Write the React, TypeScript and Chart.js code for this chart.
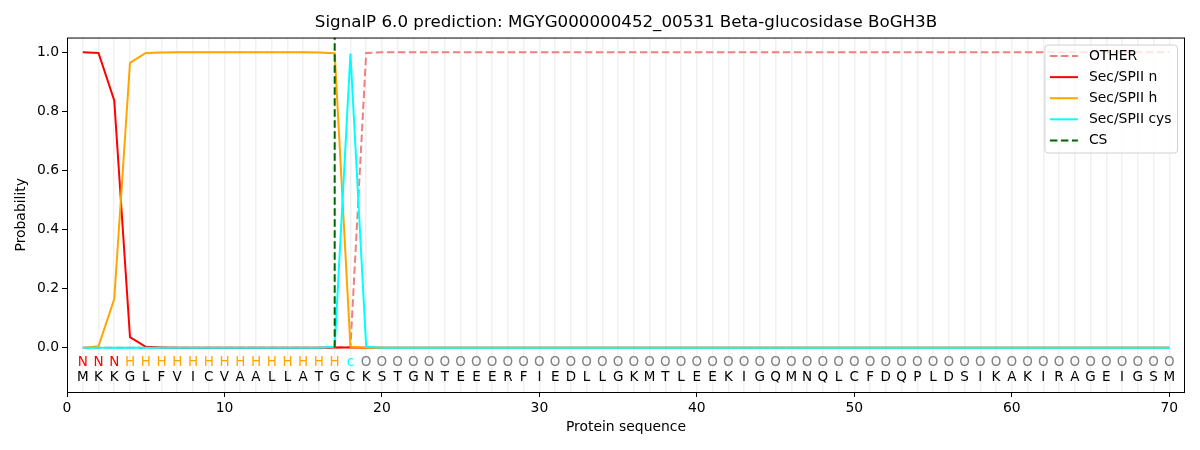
import { useEffect, useRef } from "react";
import { Chart, registerables } from "chart.js";
import type { ChartConfiguration, Plugin } from "chart.js";

Chart.register(...registerables);

const TITLE = "SignalP 6.0 prediction: MGYG000000452_00531 Beta-glucosidase BoGH3B";
const FONT = "DejaVu Sans";

// amino acid sequence and the predicted region for each residue
const sequence = "MKKGLFVICVAALLATGCKSTGNTEEERFIEDLLGKMTLEEKIGQMNQLCFDQPLDSIKAKIRAGEIGSM".split("");
const regions = ("NNNHHHHHHHHHHHHHHc" + "OOOOOOOOOOOOOOOOOOOOOOOOOOOOOOOOOOOOOOOOOOOOOOOOOOOO").split("");
const positions = sequence.map((_, i) => i + 1);

const otherProb = [
  0, 0, 0, 0, 0, 0, 0, 0, 0, 0,
  0, 0, 0, 0, 0, 0, 0, 0.002, 0.998, 1,
  1, 1, 1, 1, 1, 1, 1, 1, 1, 1,
  1, 1, 1, 1, 1, 1, 1, 1, 1, 1,
  1, 1, 1, 1, 1, 1, 1, 1, 1, 1,
  1, 1, 1, 1, 1, 1, 1, 1, 1, 1,
  1, 1, 1, 1, 1, 1, 1, 1, 1, 1,
];
const nProb = [
  1.0, 0.998, 0.837, 0.036, 0.003, 0.001, 0, 0, 0, 0,
  0, 0, 0, 0, 0, 0, 0.001, 0.001, 0, 0,
  0, 0, 0, 0, 0, 0, 0, 0, 0, 0,
  0, 0, 0, 0, 0, 0, 0, 0, 0, 0,
  0, 0, 0, 0, 0, 0, 0, 0, 0, 0,
  0, 0, 0, 0, 0, 0, 0, 0, 0, 0,
  0, 0, 0, 0, 0, 0, 0, 0, 0, 0,
];
const hProb = [
  0, 0.005, 0.165, 0.964, 0.998, 0.999, 1, 1, 1, 1,
  1, 1, 1, 1, 1, 0.999, 0.997, 0.003, 0, 0,
  0, 0, 0, 0, 0, 0, 0, 0, 0, 0,
  0, 0, 0, 0, 0, 0, 0, 0, 0, 0,
  0, 0, 0, 0, 0, 0, 0, 0, 0, 0,
  0, 0, 0, 0, 0, 0, 0, 0, 0, 0,
  0, 0, 0, 0, 0, 0, 0, 0, 0, 0,
];
const cysProb = [
  0, 0, 0, 0, 0, 0, 0, 0, 0, 0,
  0, 0, 0, 0, 0, 0, 0.003, 0.996, 0.003, 0,
  0, 0, 0, 0, 0, 0, 0, 0, 0, 0,
  0, 0, 0, 0, 0, 0, 0, 0, 0, 0,
  0, 0, 0, 0, 0, 0, 0, 0, 0, 0,
  0, 0, 0, 0, 0, 0, 0, 0, 0, 0,
  0, 0, 0, 0, 0, 0, 0, 0, 0, 0,
];
const csPosition = 17;

const xTicks = [0, 10, 20, 30, 40, 50, 60, 70];
const yTicks = [0, 0.2, 0.4, 0.6, 0.8, 1.0];
const X_MIN = 0;
const X_MAX = 71;
const Y_MIN = -0.15;
const Y_MAX = 1.05;

const regionColors: Record<string, string> = { N: "red", H: "orange", c: "cyan", O: "grey" };

const toPoints = (values: number[]) => values.map((y, i) => ({ x: positions[i], y }));

// residue letters under the curves
const sequencePlugin: Plugin<"line"> = {
  id: "sequenceLetters",
  afterDatasetsDraw(chart) {
    const { ctx } = chart;
    const xs = chart.scales.x;
    const ys = chart.scales.y;
    ctx.save();
    ctx.font = `13.5px "${FONT}"`;
    ctx.textAlign = "center";
    ctx.textBaseline = "middle";
    positions.forEach((p, i) => {
      const px = xs.getPixelForValue(p);
      ctx.fillStyle = regionColors[regions[i]] || "grey";
      ctx.fillText(regions[i], px, ys.getPixelForValue(-0.05));
      ctx.fillStyle = "#000";
      ctx.fillText(sequence[i], px, ys.getPixelForValue(-0.1));
    });
    ctx.restore();
  },
};

// matplotlib style frame + legend box in the upper right
const framePlugin: Plugin<"line"> = {
  id: "frameAndLegend",
  afterDraw(chart) {
    const { ctx, chartArea } = chart;
    ctx.save();
    ctx.strokeStyle = "#000";
    ctx.lineWidth = 1;
    ctx.strokeRect(chartArea.left + 0.5, chartArea.top + 0.5, chartArea.width - 1, chartArea.height);

    ctx.font = `13.9px "${FONT}"`;
    const items = chart.data.datasets;
    const maxText = Math.max(...items.map((d) => ctx.measureText(String(d.label)).width));
    const w = 44 + maxText + 6;
    const h = 108;
    const left = chartArea.right - 7.5 - w;
    const top = chartArea.top + 7.5;
    ctx.beginPath();
    ctx.roundRect(left, top, w, h, 3);
    ctx.fillStyle = "rgba(255,255,255,0.8)";
    ctx.fill();
    ctx.strokeStyle = "#d0d0d0";
    ctx.stroke();

    ctx.textBaseline = "middle";
    items.forEach((d: any, i) => {
      const y = top + 11 + i * 21.1;
      ctx.beginPath();
      ctx.setLineDash(d.borderDash || []);
      ctx.strokeStyle = d.borderColor;
      ctx.lineWidth = 2;
      ctx.moveTo(left + 5, y);
      ctx.lineTo(left + 33, y);
      ctx.stroke();
      ctx.setLineDash([]);
      ctx.fillStyle = "#000";
      ctx.fillText(String(d.label), left + 44, y);
    });
    ctx.restore();
  },
};

export default function App() {
  const chartRef = useRef<HTMLCanvasElement>(null);

  useEffect(() => {
    document.body.style.margin = "0";
    if (!chartRef.current) return;

    const tickFont = { family: FONT, size: 13.9 };
    const axisGrid = { drawOnChartArea: false, drawTicks: true, tickLength: 5, color: "#000", lineWidth: 1 };

    const config: ChartConfiguration<"line"> = {
      type: "line",
      data: {
        datasets: [
          {
            label: "OTHER",
            data: toPoints(otherProb),
            borderColor: "#f08080",
            borderDash: [7.5, 3.5],
            order: 5,
          },
          { label: "Sec/SPII n", data: toPoints(nProb), borderColor: "red", order: 4 },
          { label: "Sec/SPII h", data: toPoints(hProb), borderColor: "orange", order: 3 },
          { label: "Sec/SPII cys", data: toPoints(cysProb), borderColor: "cyan", order: 2 },
          {
            label: "CS",
            data: [
              { x: csPosition, y: 0 },
              { x: csPosition, y: Y_MAX },
            ],
            borderColor: "darkgreen",
            borderDash: [7.5, 3.5],
            order: 1,
          },
        ],
      },
      options: {
        responsive: false,
        animation: false,
        devicePixelRatio: 1,
        layout: { padding: { left: 0, right: 15, top: 0, bottom: 0 } },
        elements: {
          line: { borderWidth: 2, tension: 0, fill: false },
          point: { radius: 0, hoverRadius: 0 },
        },
        plugins: {
          legend: { display: false },
          tooltip: { enabled: false },
          title: {
            display: true,
            text: TITLE,
            color: "#000",
            fullSize: false,
            font: { family: FONT, size: 16.7, weight: "normal" },
            padding: { top: 13, bottom: 4.5 },
          },
        },
        scales: {
          x: {
            type: "linear",
            position: "bottom",
            min: X_MIN,
            max: X_MAX,
            afterBuildTicks: (scale) => {
              scale.ticks = xTicks.map((value) => ({ value }));
            },
            afterFit: (scale) => {
              scale.height = 58;
            },
            ticks: { font: tickFont, color: "#000", padding: 3, maxRotation: 0, callback: (v) => String(v) },
            grid: axisGrid,
            border: { display: false },
            title: {
              display: true,
              text: "Protein sequence",
              color: "#000",
              font: { family: FONT, size: 13.9 },
              padding: { top: 0, bottom: 14 },
            },
          },
          xgrid: {
            type: "linear",
            position: "bottom",
            min: X_MIN,
            max: X_MAX,
            afterBuildTicks: (scale) => {
              scale.ticks = positions.map((value) => ({ value }));
            },
            afterFit: (scale) => {
              scale.height = 0;
            },
            ticks: { display: false },
            grid: { color: "#f1f1f1", lineWidth: 1.5, drawTicks: false },
            border: { display: false },
          },
          y: {
            type: "linear",
            min: Y_MIN,
            max: Y_MAX,
            afterBuildTicks: (scale) => {
              scale.ticks = yTicks.map((value) => ({ value }));
            },
            afterFit: (scale) => {
              scale.width = 67;
            },
            ticks: { font: tickFont, color: "#000", padding: 3, callback: (v) => Number(v).toFixed(1) },
            grid: axisGrid,
            border: { display: false },
            title: {
              display: true,
              text: "Probability",
              color: "#000",
              font: { family: FONT, size: 13.9 },
              padding: { top: 13, bottom: 0 },
            },
          },
        },
      },
      plugins: [sequencePlugin, framePlugin],
    };

    const chart = new Chart(chartRef.current, config);
    return () => chart.destroy();
  }, []);

  return (
    <div style={{ width: 1200, height: 450, background: "#fff" }}>
      <canvas ref={chartRef} width={1200} height={450} style={{ display: "block" }}></canvas>
    </div>
  );
}
